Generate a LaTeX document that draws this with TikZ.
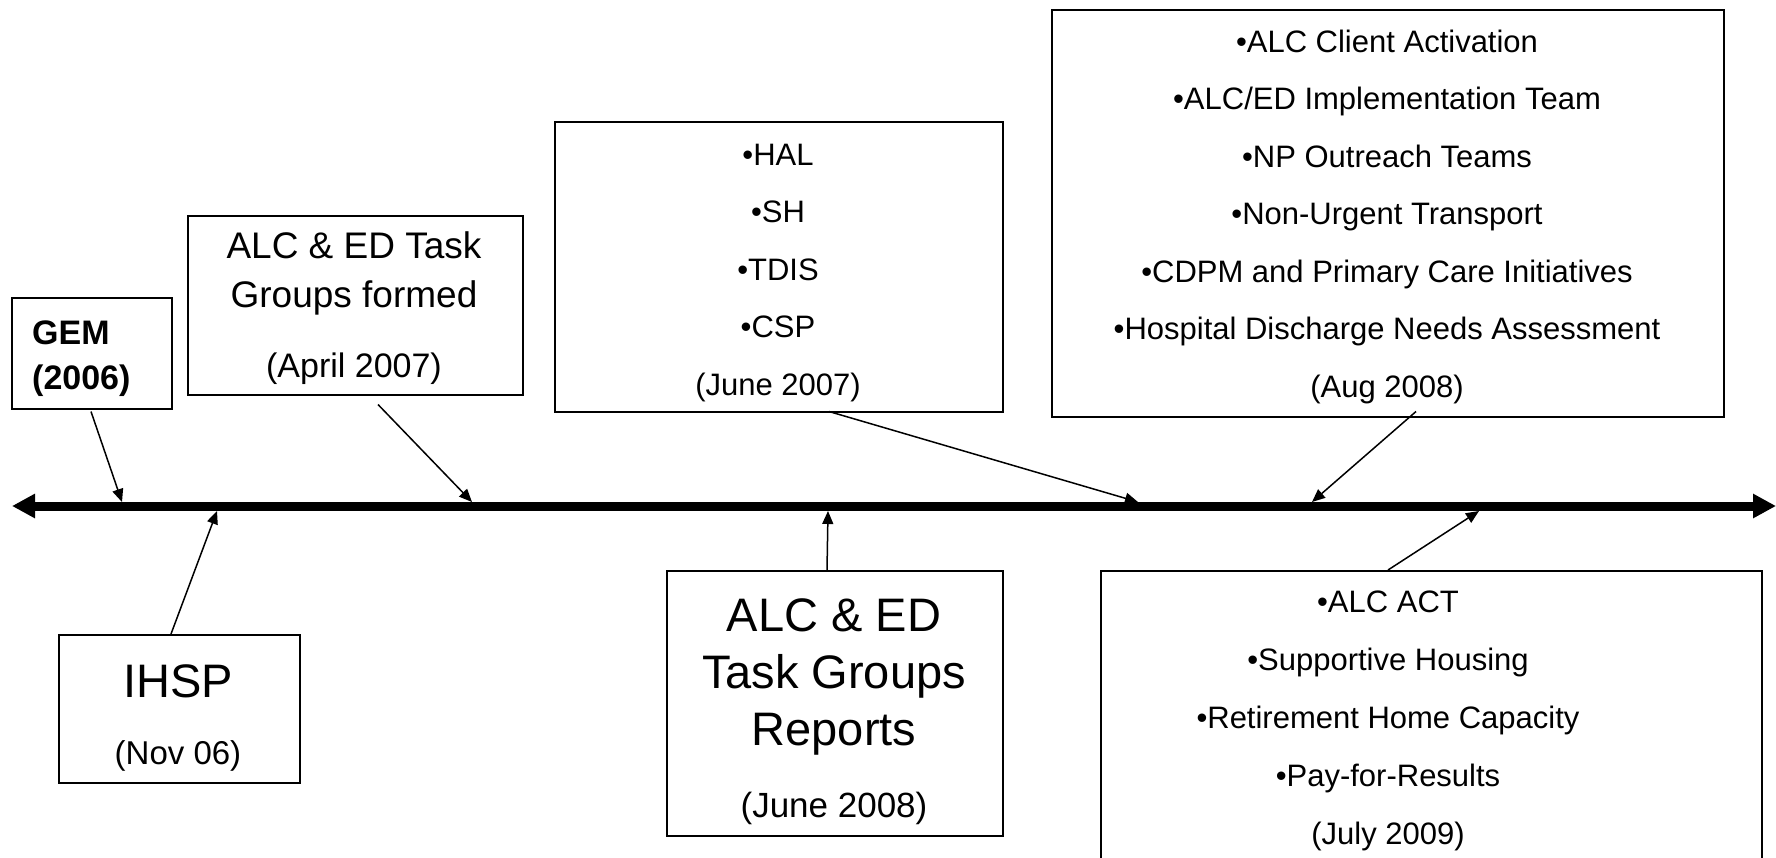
\documentclass[tikz,border=0pt]{standalone}
\usepackage{fontspec}
\setmainfont{Liberation Sans}
\usetikzlibrary{arrows.meta,calc}

\begin{document}
\begin{tikzpicture}[x=1pt,y=-1pt,
  box/.style={draw, line width=1.5pt, inner sep=0pt, anchor=north west},
  txt/.style={anchor=base, inner sep=0pt},
  small/.style={font=\fontsize{31}{37}\selectfont},
  mid/.style={font=\fontsize{37}{44}\selectfont},
  date/.style={font=\fontsize{34}{40}\selectfont},
  big/.style={font=\fontsize{47}{56}\selectfont},
  link/.style={line width=1.5pt, -{Triangle[length=13pt,width=11pt]}},
  axis/.style={line width=9pt,
    {Triangle[length=23pt,width=23pt]}-{Triangle[length=23pt,width=23pt]}}]

\clip (0,0) rectangle (1776,857);

% boxes
\node[box, minimum width=160pt, minimum height=111pt] (gem) at (11,297) {};
\node[box, minimum width=335pt, minimum height=179pt] (form) at (187,215) {};
\node[box, minimum width=448pt, minimum height=290pt] (hal) at (554,121) {};
\node[box, minimum width=672pt, minimum height=407pt] (aug) at (1051,9) {};
\node[box, minimum width=241pt, minimum height=148pt] (ihsp) at (58,634) {};
\node[box, minimum width=336pt, minimum height=265pt] (rep) at (666,570) {};
\node[box, minimum width=661pt, minimum height=320pt] (jul) at (1100,570) {};

% texts
\node[txt, anchor=base west, font=\fontsize{34}{40}\selectfont\bfseries] (gem-0) at (32,344) {GEM};
\node[txt, anchor=base west, font=\fontsize{34}{40}\selectfont\bfseries] (gem-1) at (32,389) {(2006)};

\node[txt, mid] (form-0) at (354,258) {ALC \& ED Task};
\node[txt, mid] (form-1) at (354,307) {Groups formed};
\node[txt, date] (form-2) at (354,377) {(April 2007)};

\foreach \t [count=\i from 0] in {•HAL,•SH,•TDIS,•CSP,(June 2007)}
  \node[txt, small] (hal-\i) at (778,{165+57.5*\i}) {\t};

\foreach \t [count=\i from 0] in {•ALC Client Activation,•ALC/ED Implementation Team,
    •NP Outreach Teams,•Non-Urgent Transport,•CDPM and Primary Care Initiatives,
    •Hospital Discharge Needs Assessment,(Aug 2008)}
  \node[txt, small] (aug-\i) at (1387,{52+57.5*\i}) {\t};

\node[txt, big] (ihsp-0) at (178,697) {IHSP};
\node[txt, font=\fontsize{33}{40}\selectfont] (ihsp-1) at (178,764) {(Nov 06)};

\node[txt, big] (rep-0) at (834,631) {ALC \& ED};
\node[txt, big] (rep-1) at (834,688) {Task Groups};
\node[txt, big] (rep-2) at (834,745) {Reports};
\node[txt, font=\fontsize{35}{42}\selectfont] (rep-3) at (834,817) {(June 2008)};

\foreach \t [count=\i from 0] in {•ALC ACT,•Supportive Housing,•Retirement Home Capacity,
    •Pay-for-Results,(July 2009)}
  \node[txt, small] (jul-\i) at (1388,{612+58*\i}) {\t};

% timeline
\coordinate (axl) at (12,506);
\coordinate (axr) at (1776,506);
\draw[axis] (axl) -- (axr);

% points on the timeline
\coordinate (p-gem) at (122,502);
\coordinate (p-ihsp) at (217,511);
\coordinate (p-form) at (472,502);
\coordinate (p-rep) at (828,511);
\coordinate (p-hal) at (1138,502);
\coordinate (p-aug) at (1312,502);
\coordinate (p-jul) at (1479,511);

% connectors
\draw[link] ($(gem.south west)+(80,2)$) -- (p-gem);
\draw[link] ($(ihsp.north west)+(113,0)$) -- (p-ihsp);
\draw[link] ($(form.south west)+(191,9)$) -- (p-form);
\draw[link] ($(rep.north west)+(161,0)$) -- (p-rep);
\draw[link] ($(hal.south west)+(275,-1)$) -- (p-hal);
\draw[link] ($(aug.south west)+(365,-6)$) -- (p-aug);
\draw[link] ($(jul.north west)+(288,0)$) -- (p-jul);
\end{tikzpicture}
\end{document}
